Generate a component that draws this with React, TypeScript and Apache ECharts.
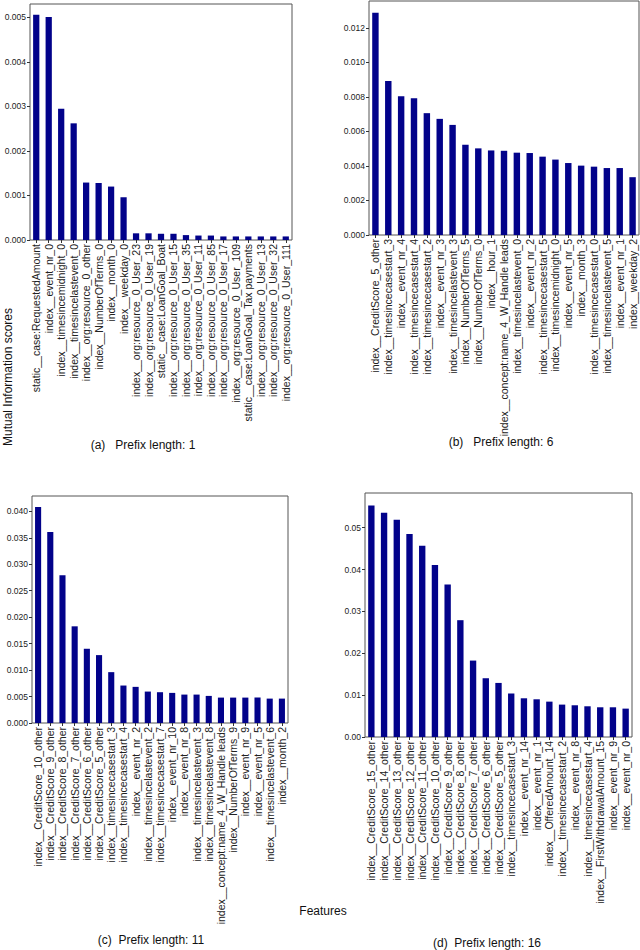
import React, { useEffect, useRef } from 'react';
import * as echarts from 'echarts';

const featuresA = [
  'static__case:RequestedAmount', 'index__event_nr_0', 'index__timesincemidnight_0',
  'index__timesincelastevent_0', 'index__org:resource_0_other', 'index__NumberOfTerms_0',
  'index__month_0', 'index__weekday_0', 'index__org:resource_0_User_23',
  'index__org:resource_0_User_19', 'static__case:LoanGoal_Boat', 'index__org:resource_0_User_15',
  'index__org:resource_0_User_35', 'index__org:resource_0_User_11', 'index__org:resource_0_User_85',
  'index__org:resource_0_User_17', 'index__org:resource_0_User_109', 'static__case:LoanGoal_Tax payments',
  'index__org:resource_0_User_13', 'index__org:resource_0_User_32', 'index__org:resource_0_User_111',
];
const scoresA = [
  0.00506, 0.00501, 0.00295, 0.00262, 0.00129, 0.00128, 0.0012, 0.00096, 0.00015, 0.00015,
  0.00014, 0.00014, 0.00011, 0.0001, 0.0001, 0.00008, 0.00008, 0.00008, 0.00008, 0.00008, 0.00008,
];

const featuresB = [
  'index__CreditScore_5_other', 'index__timesincecasestart_3', 'index__event_nr_4',
  'index__timesincecasestart_4', 'index__timesincecasestart_2', 'index__event_nr_3',
  'index__timesincelastevent_3', 'index__NumberOfTerms_5', 'index__NumberOfTerms_0', 'index__hour_1',
  'index__concept:name_4_W_Handle leads', 'index__timesincelastevent_0', 'index__event_nr_2',
  'index__timesincecasestart_5', 'index__timesincemidnight_0', 'index__event_nr_5', 'index__month_3',
  'index__timesincecasestart_0', 'index__timesincelastevent_5', 'index__event_nr_1', 'index__weekday_2',
];
const scoresB = [
  0.01288, 0.00892, 0.00804, 0.00792, 0.00706, 0.00673, 0.00638, 0.00523, 0.00502, 0.0049,
  0.00488, 0.00477, 0.00475, 0.00454, 0.00437, 0.00417, 0.00402, 0.00396, 0.00388, 0.00388, 0.00335,
];

const featuresC = [
  'index__CreditScore_10_other', 'index__CreditScore_9_other', 'index__CreditScore_8_other',
  'index__CreditScore_7_other', 'index__CreditScore_6_other', 'index__CreditScore_5_other',
  'index__timesincecasestart_3', 'index__timesincecasestart_4', 'index__event_nr_2',
  'index__timesincelastevent_2', 'index__timesincecasestart_7', 'index__event_nr_10', 'index__event_nr_8',
  'index__timesincelastevent_3', 'index__timesincelastevent_8', 'index__concept:name_4_W_Handle leads',
  'index__NumberOfTerms_9', 'index__event_nr_9', 'index__event_nr_5', 'index__timesincelastevent_6',
  'index__month_2',
];
const scoresC = [
  0.04083, 0.0361, 0.0279, 0.01827, 0.01403, 0.01283, 0.00961, 0.00708, 0.00683, 0.00594,
  0.00582, 0.00569, 0.00537, 0.00537, 0.00512, 0.0048, 0.0048, 0.0048, 0.0048, 0.00461, 0.00461,
];

const featuresD = [
  'index__CreditScore_15_other', 'index__CreditScore_14_other', 'index__CreditScore_13_other',
  'index__CreditScore_12_other', 'index__CreditScore_11_other', 'index__CreditScore_10_other',
  'index__CreditScore_9_other', 'index__CreditScore_8_other', 'index__CreditScore_7_other',
  'index__CreditScore_6_other', 'index__CreditScore_5_other', 'index__timesincecasestart_3',
  'index__event_nr_14', 'index__event_nr_1', 'index__OfferedAmount_14', 'index__timesincecasestart_2',
  'index__event_nr_8', 'index__timesincecasestart_4', 'index__FirstWithdrawalAmount_15',
  'index__event_nr_9', 'index__event_nr_0',
];
const scoresD = [
  0.05534, 0.05359, 0.05191, 0.04848, 0.0457, 0.04107, 0.03644, 0.02791, 0.01826, 0.01404,
  0.01292, 0.01037, 0.00925, 0.00901, 0.00845, 0.00774, 0.00758, 0.00734, 0.0071, 0.0071, 0.00678,
];

const ticksA = [0, 0.001, 0.002, 0.003, 0.004, 0.005];
const ticksB = [0, 0.002, 0.004, 0.006, 0.008, 0.01, 0.012];
const ticksC = [0, 0.005, 0.01, 0.015, 0.02, 0.025, 0.03, 0.035, 0.04];
const ticksD = [0, 0.01, 0.02, 0.03, 0.04, 0.05];

const FONT = 'Liberation Sans';
const BAR = '#02028a';

const panels = [
  { names: featuresA, values: scoresA, ticks: ticksA, step: 0.001, max: 0.0053, digits: 3, grid: { left: 30, top: 4, width: 262, height: 236 } },
  { names: featuresB, values: scoresB, ticks: ticksB, step: 0.002, max: 0.01356, digits: 3, grid: { left: 369, top: 1, width: 270, height: 234 } },
  { names: featuresC, values: scoresC, ticks: ticksC, step: 0.005, max: 0.0429, digits: 3, grid: { left: 32, top: 496, width: 256, height: 227 } },
  { names: featuresD, values: scoresD, ticks: ticksD, step: 0.01, max: 0.0583, digits: 2, grid: { left: 365, top: 493, width: 267, height: 244 } },
];

const captions = [
  { text: '(a)   Prefix length: 1', x: 143, y: 445 },
  { text: '(b)   Prefix length: 6', x: 501, y: 442 },
  { text: '(c)  Prefix length: 11', x: 151, y: 940 },
  { text: '(d)  Prefix length: 16', x: 487, y: 943 },
];

const App: React.FC = () => {
  const chartRef = useRef<HTMLDivElement>(null);

  useEffect(() => {
    const chart = echarts.init(chartRef.current!, undefined, { renderer: 'svg' });

    const option = {
      animation: false,
      backgroundColor: '#fff',
      textStyle: { fontFamily: FONT },
      grid: panels.map(p => ({
        ...p.grid,
        show: true,
        borderColor: '#555',
        borderWidth: 1,
        backgroundColor: 'transparent',
      })),
      xAxis: panels.map((p, i) => ({
        type: 'category',
        gridIndex: i,
        data: p.names,
        axisLine: { show: false },
        axisTick: { show: true, alignWithLabel: true, length: 3, lineStyle: { color: '#333' } },
        axisLabel: {
          interval: 0,
          rotate: 90,
          fontSize: 10.5,
          color: '#222',
          margin: 4,
          fontFamily: FONT,
        },
      })),
      yAxis: panels.map((p, i) => ({
        type: 'value',
        gridIndex: i,
        min: 0,
        max: p.max,
        interval: p.step,
        splitLine: { show: false },
        axisLine: { show: false },
        axisTick: { show: true, length: 3, customValues: p.ticks, lineStyle: { color: '#333' } },
        axisLabel: {
          fontSize: 8.5,
          color: '#222',
          margin: 4,
          customValues: p.ticks,
          fontFamily: FONT,
          formatter: (v: number) => v.toFixed(p.digits),
        },
      })),
      series: panels.map((p, i) => ({
        type: 'bar',
        xAxisIndex: i,
        yAxisIndex: i,
        data: p.values,
        barCategoryGap: '50%',
        itemStyle: { color: BAR },
      })),
      graphic: [
        ...captions.map(c => ({
          type: 'text',
          x: c.x,
          y: c.y,
          style: {
            text: c.text,
            align: 'center',
            verticalAlign: 'middle',
            fontSize: 12,
            fontFamily: FONT,
            fill: '#111',
          },
        })),
        {
          type: 'text',
          x: 323,
          y: 911,
          style: {
            text: 'Features',
            align: 'center',
            verticalAlign: 'middle',
            fontSize: 12,
            fontFamily: FONT,
            fill: '#111',
          },
        },
        {
          type: 'text',
          x: 8,
          y: 377,
          rotation: Math.PI / 2,
          style: {
            text: 'Mutual Information scores',
            align: 'center',
            verticalAlign: 'middle',
            fontSize: 12,
            fontFamily: FONT,
            fill: '#111',
          },
        },
      ],
    };

    chart.setOption(option);

    return () => {
      chart.dispose();
    };
  }, []);

  return (
    <div
      ref={chartRef}
      style={{ position: 'absolute', left: 0, top: 0, width: '640px', height: '950px' }}
    />
  );
};

export default App;
